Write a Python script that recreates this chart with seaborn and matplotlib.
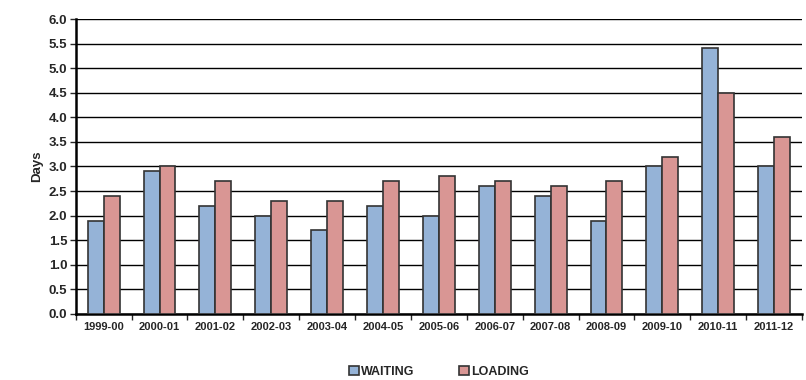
import matplotlib
matplotlib.use('Agg')
import matplotlib.pyplot as plt
import pandas as pd
import seaborn as sns
import numpy as np

years=['1999-00','2000-01','2001-02','2002-03','2003-04','2004-05','2005-06',
       '2006-07','2007-08','2008-09','2009-10','2010-11','2011-12']
waiting=[1.9,2.9,2.2,2.0,1.7,2.2,2.0,2.6,2.4,1.9,3.0,5.4,3.0]
loading=[2.4,3.0,2.7,2.3,2.3,2.7,2.8,2.7,2.6,2.7,3.2,4.5,3.6]

df=pd.DataFrame({'Year':years*2,'Days':waiting+loading,
                 'Type':['WAITING']*len(years)+['LOADING']*len(years)})

sns.set_style("white")
plt.rcParams['font.family']=['Liberation Sans','DejaVu Sans']
plt.rcParams['font.weight']='bold'

fig=plt.figure(figsize=(8.06,3.8),dpi=100)
ax=fig.add_axes([0.094,0.174,0.901,0.776])

sns.barplot(data=df,x='Year',y='Days',hue='Type',ax=ax,
            palette=['#95B3D7','#D99694'],width=0.57,
            edgecolor='#333333',linewidth=1.2,saturation=1,zorder=3)

ax.set_ylim(0,6)
ax.set_yticks(np.arange(0,6.01,0.5))
ax.set_yticklabels([f'{v:.1f}' for v in np.arange(0,6.01,0.5)],fontsize=9.5,fontweight='bold')
ax.set_xlim(-0.5,len(years)-0.5)
ax.set_xticks(range(len(years)))
ax.set_xticklabels(years,fontsize=8,fontweight='bold')
ax.tick_params(axis='x',length=0,pad=6)
ax.tick_params(axis='y',length=4,width=1,direction='out',pad=2,left=True)
ax.set_xticks(np.arange(-0.5,len(years),1),minor=True)
ax.tick_params(axis='x',which='minor',length=4,width=1,direction='out',bottom=True)
ax.yaxis.grid(True,color='black',linewidth=1)
ax.set_axisbelow(True)
for s in ['top','right']:
    ax.spines[s].set_visible(False)
ax.spines['left'].set_linewidth(1.8)
ax.spines['bottom'].set_linewidth(1.8)
ax.spines['left'].set_color('black')
ax.spines['bottom'].set_color('black')
ax.set_xlabel('')
ax.set_ylabel('Days',fontsize=9.5,fontweight='bold',labelpad=4)

ax.legend(loc='center',bbox_to_anchor=(0.5,-0.197),ncol=2,frameon=False,
          handlelength=0.8,handleheight=0.8,handletextpad=0.2,columnspacing=3.5,
          borderpad=0,prop={'weight':'bold','size':9})

fig.savefig('out.png',dpi=100)
